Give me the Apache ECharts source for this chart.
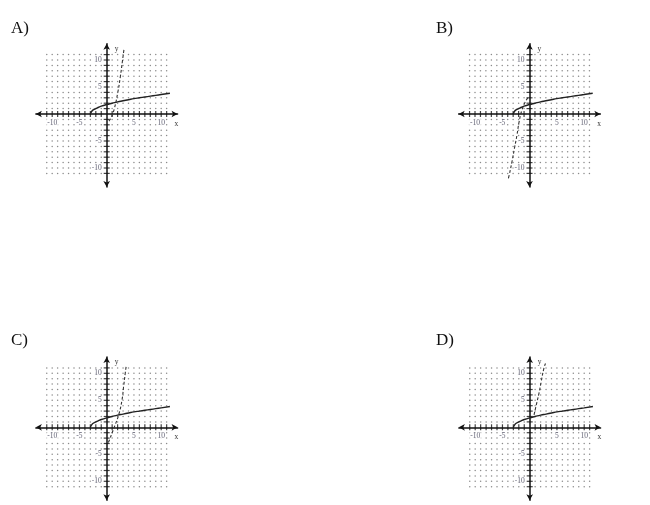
<!DOCTYPE html>
<html>
<head>
<meta charset="utf-8">
<script src="https://cdn.jsdelivr.net/npm/echarts@6/dist/echarts.min.js"></script>
<style>
html,body{margin:0;padding:0;background:#fff;}
#c{width:650px;height:505px;}
</style>
</head>
<body>
<div id="c"></div>
<script>
// ---- data ----
const panelLabels = ['A)', 'B)', 'C)', 'D)'];
const tickLabelValues = [-10, -5, 5, 10];
const gridIntegers = [-11,-10,-9,-8,-7,-6,-5,-4,-3,-2,-1,0,1,2,3,4,5,6,7,8,9,10,11];
// solid curve (same in every panel)
const solidCurve = [[-3,0],[-2.7,0.55],[-2.4,0.8],[-2,1.0],[-1.5,1.25],[-1,1.45],[0,1.75],[1,2.0],[2,2.25],[3,2.45],[4,2.65],[5,2.85],[6,3.0],[7,3.15],[8,3.3],[9,3.45],[10,3.6],[11.6,3.85]];
// dashed curves, one per panel
const dashedA = [[0.4,-1.3],[0.9,-0.5],[1.4,1.0],[2.0,3.8],[2.5,6.9],[2.9,9.9],[3.2,12.2]];
const dashedB = [[-0.3,3.0],[-0.8,2.2],[-1.4,0.7],[-1.9,-1.4],[-2.3,-3.9],[-2.75,-6.3],[-3.2,-8.75],[-3.7,-11.2],[-3.9,-12.0]];
const dashedC = [[0.3,-2.8],[0.6,-2.1],[1.0,-1.0],[1.5,0.3],[2.2,2.3],[2.8,5.0],[3.1,7.5],[3.4,10.0],[3.6,11.5]];
const dashedD = [[0.8,2.3],[1.2,4.1],[1.7,6.3],[2.1,8.4],[2.6,10.9],[2.9,11.8]];
const dashedCurves = [dashedA, dashedB, dashedC, dashedD];

// ---- layout ----
const pxX = 5.45, pxY = 5.4;
const xMin = -13, xMax = 13, yMin = -13.5, yMax = 13;
const origins = [[106.7,114],[529.5,114],[106.7,427.3],[529.7,427.3]];
const labelPos = [[11,20],[436,20],[11,332],[436,332]];

const chart = echarts.init(document.getElementById('c'), null, {renderer:'canvas'});
const grids = [], xAxes = [], yAxes = [], series = [], titles = [];

const lblFont = {fontFamily:'Liberation Serif', fontSize:7.5, color:'#3a3a50', backgroundColor:'#fff', padding:[0,1]};

origins.forEach((o, g) => {
  grids.push({
    left: o[0] - (0 - xMin) * pxX,
    top: o[1] - (yMax - 0) * pxY,
    width: (xMax - xMin) * pxX,
    height: (yMax - yMin) * pxY,
    containLabel: false
  });
  xAxes.push({
    gridIndex: g, type: 'value', min: xMin, max: xMax, interval: 1,
    name: 'x', nameLocation: 'end', nameGap: -3,
    nameTextStyle: {fontFamily:'Liberation Serif', fontSize:7.5, color:'#333', verticalAlign:'top', padding:[6,0,0,0]},
    axisLine: {onZero: true, lineStyle:{color:'#111', width:1.5}, symbol:['arrow','arrow'], symbolSize:[5,6]},
    axisTick: {show:false},
    splitLine: {show:false},
    axisLabel: {show:false}
  });
  yAxes.push({
    gridIndex: g, type: 'value', min: yMin, max: yMax, interval: 1,
    name: 'y', nameLocation: 'end', nameGap: -9,
    nameTextStyle: {fontFamily:'Liberation Serif', fontSize:7.5, color:'#333', align:'left', padding:[0,0,0,8]},
    axisLine: {onZero: true, lineStyle:{color:'#111', width:1.5}, symbol:['arrow','arrow'], symbolSize:[5,6]},
    axisTick: {show:false},
    splitLine: {show:false},
    axisLabel: {show:false}
  });
  // dotted lattice
  const dots = [];
  gridIntegers.forEach(i => gridIntegers.forEach(j => { if (i !== 0 && j !== 0) dots.push([i, j]); }));
  series.push({type:'scatter', xAxisIndex:g, yAxisIndex:g, data:dots, symbol:'circle', symbolSize:1.5,
    itemStyle:{color:'#6e6e6e'}, silent:true, z:1});
  // axis ticks crossing the axes
  const xt = gridIntegers.filter(i => i !== 0).map(i => [i, 0]);
  const yt = gridIntegers.filter(i => i !== 0).map(i => [0, i]);
  series.push({type:'scatter', xAxisIndex:g, yAxisIndex:g, data:xt, symbol:'rect', symbolSize:[1.2,6],
    itemStyle:{color:'#111'}, silent:true, z:3});
  series.push({type:'scatter', xAxisIndex:g, yAxisIndex:g, data:yt, symbol:'rect', symbolSize:[6,1.2],
    itemStyle:{color:'#111'}, silent:true, z:3});
  // tick labels
  series.push({type:'scatter', xAxisIndex:g, yAxisIndex:g, symbolSize:0, silent:true, z:5,
    data: tickLabelValues.map(v => [v, 0]),
    label:{show:true, position:'bottom', distance:5, ...lblFont, formatter: p => String(p.value[0])}});
  series.push({type:'scatter', xAxisIndex:g, yAxisIndex:g, symbolSize:0, silent:true, z:5,
    data: tickLabelValues.map(v => [0, v]),
    label:{show:true, position:'left', distance:4, ...lblFont, formatter: p => String(p.value[1])}});
  // solid function
  series.push({type:'line', xAxisIndex:g, yAxisIndex:g, data:solidCurve, smooth:true, showSymbol:false,
    lineStyle:{color:'#222', width:1.4}, z:4});
  // dashed inverse candidate
  series.push({type:'line', xAxisIndex:g, yAxisIndex:g, data:dashedCurves[g], smooth:true, showSymbol:false,
    lineStyle:{color:'#333', width:1.1, type:[3,2]}, z:4});
  titles.push({text: panelLabels[g], left: labelPos[g][0], top: labelPos[g][1], padding:0,
    textStyle:{fontFamily:'Liberation Serif', fontSize:17, fontWeight:'normal', color:'#111'}});
});

chart.setOption({
  animation: false,
  backgroundColor: '#fff',
  title: titles,
  grid: grids,
  xAxis: xAxes,
  yAxis: yAxes,
  series: series
});
</script>
</body>
</html>
